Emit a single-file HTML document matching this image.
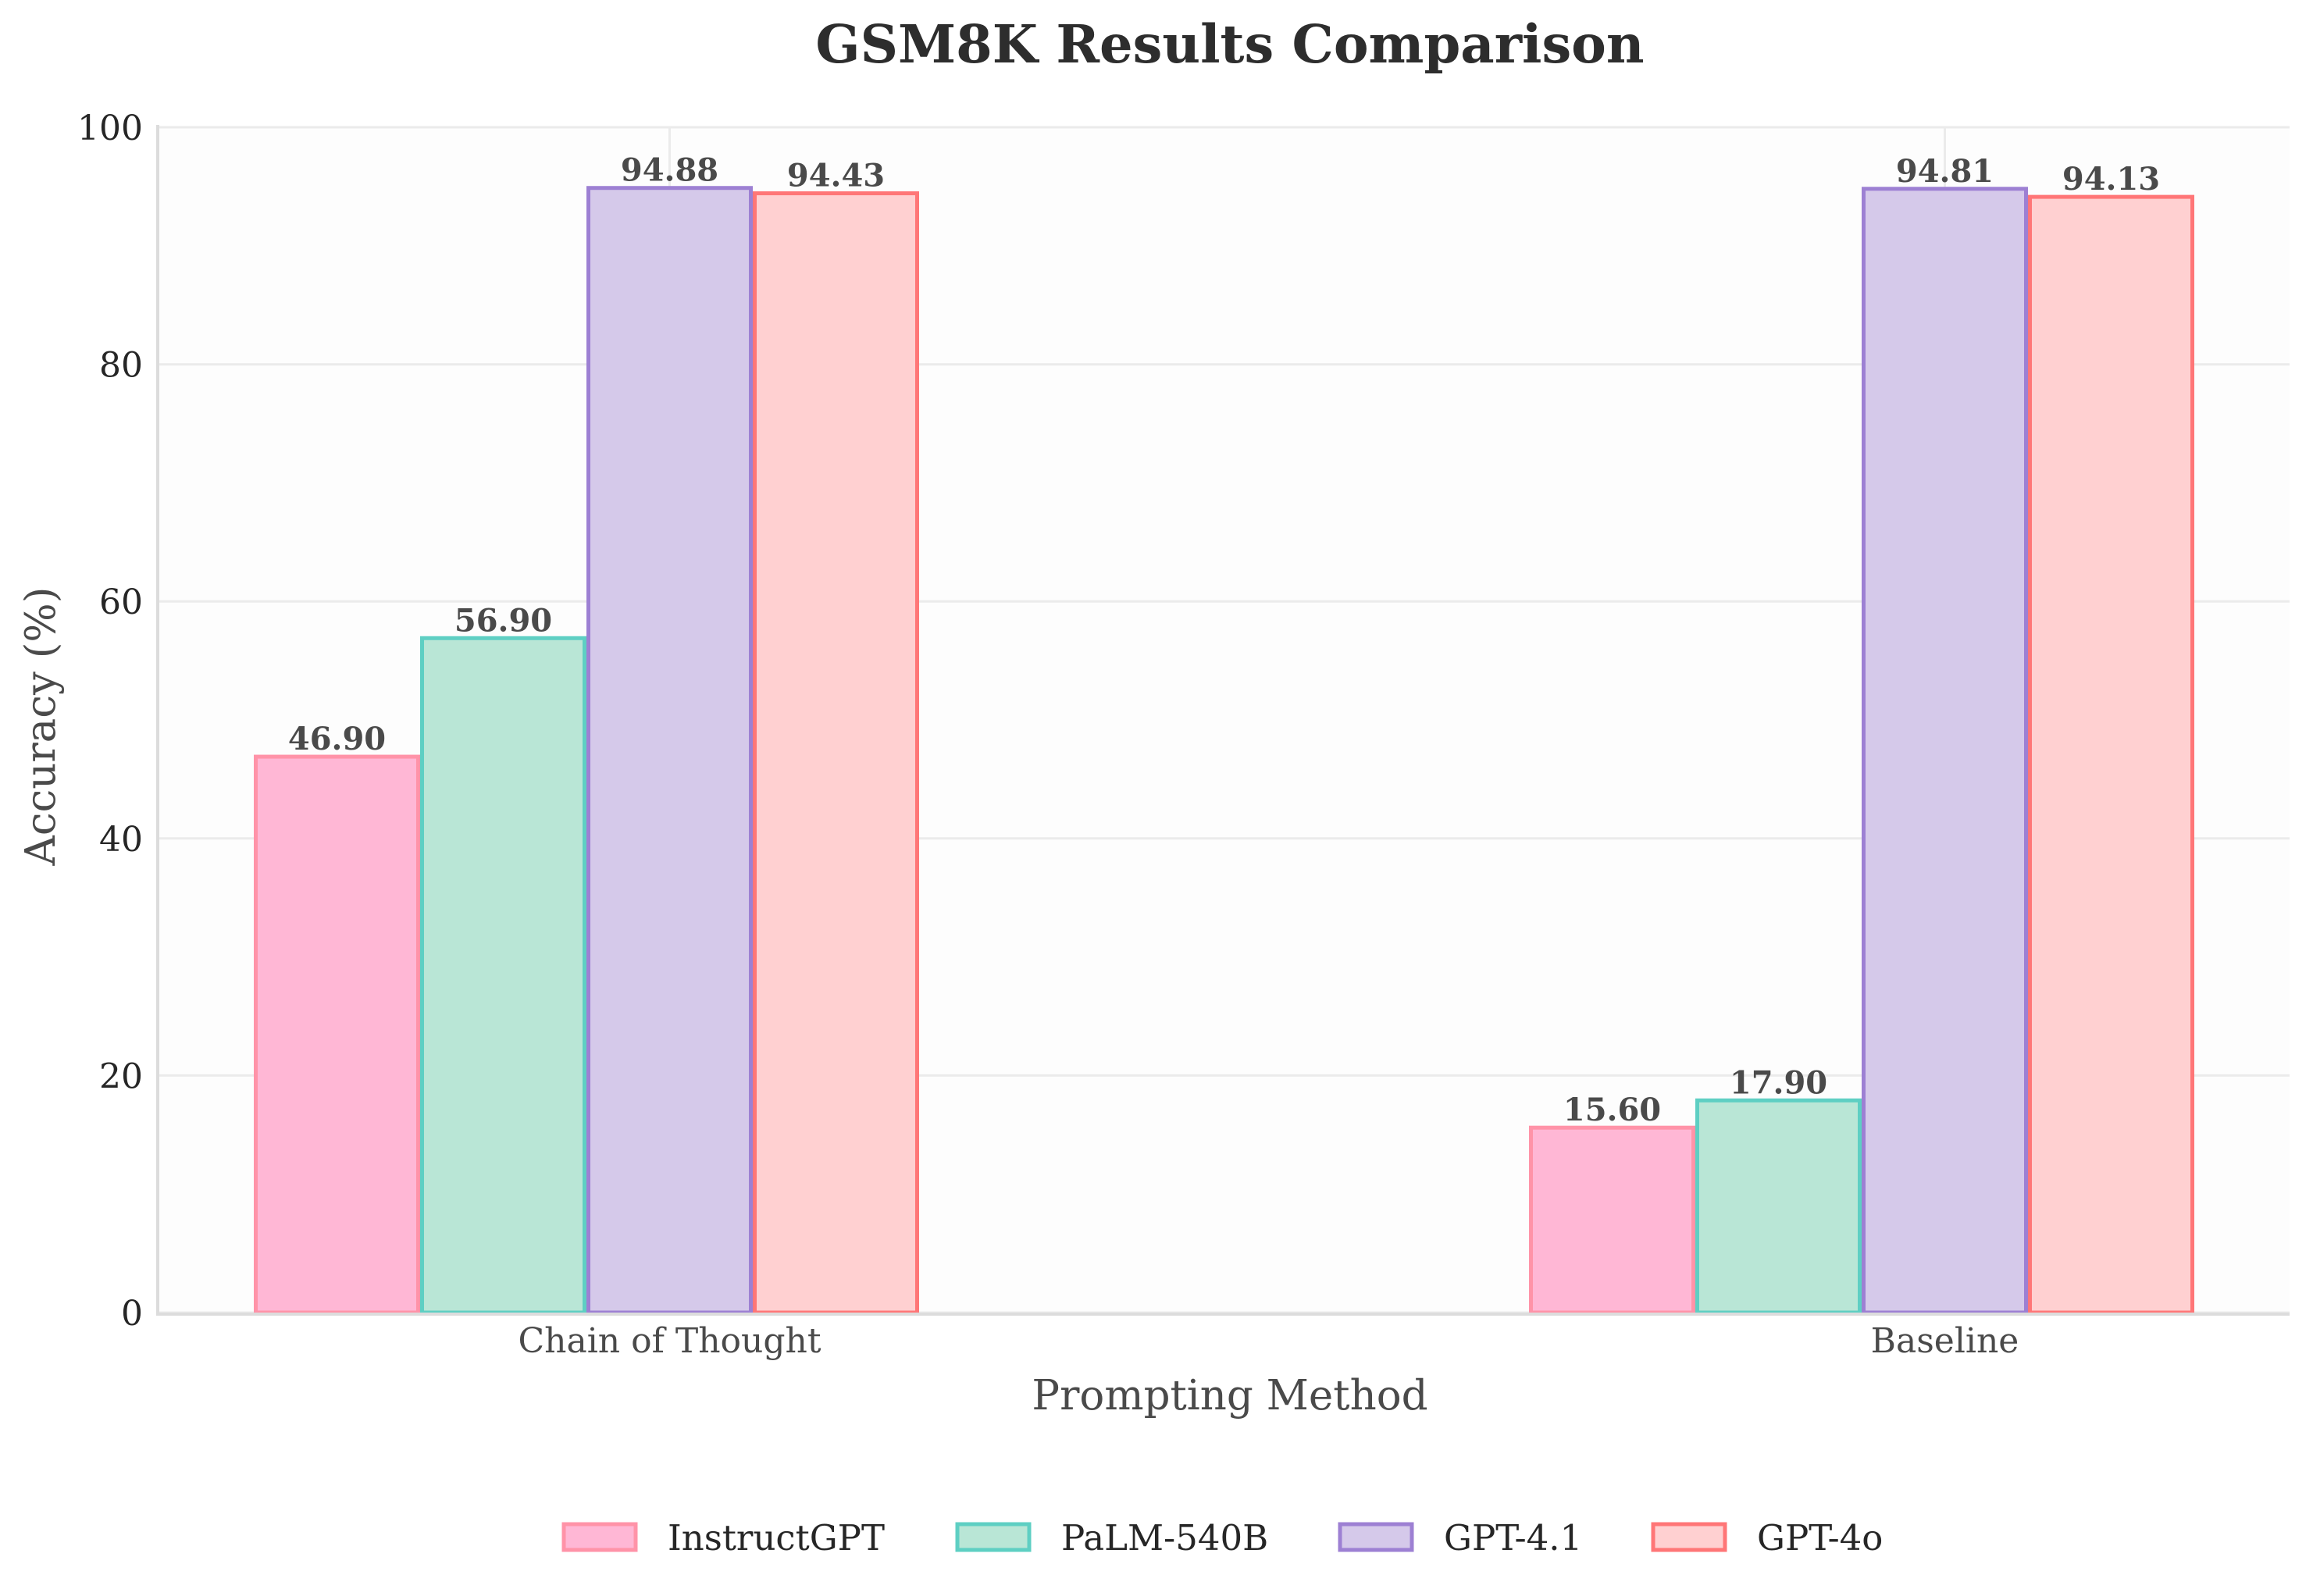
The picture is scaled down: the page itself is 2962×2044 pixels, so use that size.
<!DOCTYPE html>
<html><head><meta charset="utf-8"><style>
html,body{margin:0;padding:0;background:#fff}
svg{display:block}
text{font-family:"DejaVu Serif","Liberation Serif",serif}
</style></head><body>
<svg id="chart" width="2962" height="2044" viewBox="0 0 2962 2044" xmlns="http://www.w3.org/2000/svg">
<rect x="202" y="163" width="2730" height="1518" fill="#fdfdfd"/>
<g id="grid"></g>
<g id="bars"></g>
<g id="labels"></g>
<line x1="202" y1="160" x2="202" y2="1683" stroke="#dcdcdc" stroke-width="4"/>
<line x1="200" y1="1683" x2="2932" y2="1683" stroke="#dcdcdc" stroke-width="4"/>
<g id="ticks"></g>
<text x="1575" y="80" text-anchor="middle" font-size="67" font-weight="bold" fill="#2d2d2d">GSM8K Results Comparison</text>
<text transform="translate(70,930) rotate(-90)" text-anchor="middle" font-size="53" fill="#4a4a4a">Accuracy (%)</text>
<text x="1575" y="1805" text-anchor="middle" font-size="53" fill="#4a4a4a">Prompting Method</text>
<g id="legend"></g>
</svg>
<script>
const categories = ["Chain of Thought", "Baseline"];
const seriesNames = ["InstructGPT", "PaLM-540B", "GPT-4.1", "GPT-4o"];
const instructGPT = [46.90, 15.60];
const palm540B = [56.90, 17.90];
const gpt41 = [94.88, 94.81];
const gpt4o = [94.43, 94.13];
const yTicks = [0, 20, 40, 60, 80, 100];

const series = [instructGPT, palm540B, gpt41, gpt4o];
const fills = ["#ffb7d5", "#b9e6d6", "#d5c9ea", "#ffd0d1"];
const strokes = ["#ff93a8", "#5ecfc3", "#9d80d3", "#ff7677"];
const NS = "http://www.w3.org/2000/svg";
const y0 = 1681, y100 = 163;
function yScale(v){ return y0 - (v/100)*(y0-y100); }
const barW = 213;
function xScale(ci){ return 325 + ci*1633; }

const grid = document.getElementById('grid');
const ticks = document.getElementById('ticks');
yTicks.forEach(t=>{
  const l = document.createElementNS(NS,'line');
  
  
  l.setAttribute('x1',202); l.setAttribute('x2',2932);
  l.setAttribute('y1',yScale(t)); l.setAttribute('y2',yScale(t));
  l.setAttribute('stroke','#ebebeb'); l.setAttribute('stroke-width','3');
  grid.appendChild(l);
  const tx = document.createElementNS(NS,'text');
  
  
  tx.setAttribute('x',183); tx.setAttribute('y',yScale(t)+16);
  tx.setAttribute('text-anchor','end'); tx.setAttribute('font-size','44'); tx.setAttribute('fill','#262626');
  tx.textContent = t;
  ticks.appendChild(tx);
});
categories.forEach((c,ci)=>{
  const cx = xScale(ci) + 2.5*barW;
  const l = document.createElementNS(NS,'line');
  
  
  l.setAttribute('x1',cx); l.setAttribute('x2',cx);
  l.setAttribute('y1',163); l.setAttribute('y2',1681);
  l.setAttribute('stroke','#ebebeb'); l.setAttribute('stroke-width','3');
  grid.appendChild(l);
  const tx = document.createElementNS(NS,'text');
  
  
  tx.setAttribute('x',cx); tx.setAttribute('y',1732);
  tx.setAttribute('text-anchor','middle'); tx.setAttribute('font-size','44'); tx.setAttribute('fill','#4a4a4a');
  tx.textContent = c;
  ticks.appendChild(tx);
});
const bars = document.getElementById('bars');
const labels = document.getElementById('labels');
series.forEach((vals,si)=>{
  vals.forEach((v,ci)=>{
    const x = xScale(ci) + si*barW;
    const r = document.createElementNS(NS,'rect');
    
    
    r.setAttribute('x',x+2.5); r.setAttribute('y',yScale(v));
    r.setAttribute('width',barW-5); r.setAttribute('height',y0-yScale(v));
    r.setAttribute('fill',fills[si]); r.setAttribute('stroke',strokes[si]); r.setAttribute('stroke-width','5');
    bars.appendChild(r);
    const t = document.createElementNS(NS,'text');
    
    
    t.setAttribute('x',x+barW/2); t.setAttribute('y',yScale(v)-9);
    t.setAttribute('text-anchor','middle'); t.setAttribute('font-size','40'); t.setAttribute('font-weight','bold'); t.setAttribute('fill','#4a4a4a');
    t.textContent = v.toFixed(2);
    labels.appendChild(t);
  });
});
const legend = document.getElementById('legend');
const legX = [722, 1226, 1716, 2117];
seriesNames.forEach((n,si)=>{
  const r = document.createElementNS(NS,'rect');
  
  
  r.setAttribute('x',legX[si]); r.setAttribute('y',1952);
  r.setAttribute('width',92); r.setAttribute('height',33);
  r.setAttribute('fill',fills[si]); r.setAttribute('stroke',strokes[si]); r.setAttribute('stroke-width','5');
  legend.appendChild(r);
  const t = document.createElementNS(NS,'text');
  
  
  t.setAttribute('x',legX[si]+133); t.setAttribute('y',1985);
  t.setAttribute('font-size','45'); t.setAttribute('fill','#262626');
  t.textContent = n;
  legend.appendChild(t);
});
</script>
</body></html>
